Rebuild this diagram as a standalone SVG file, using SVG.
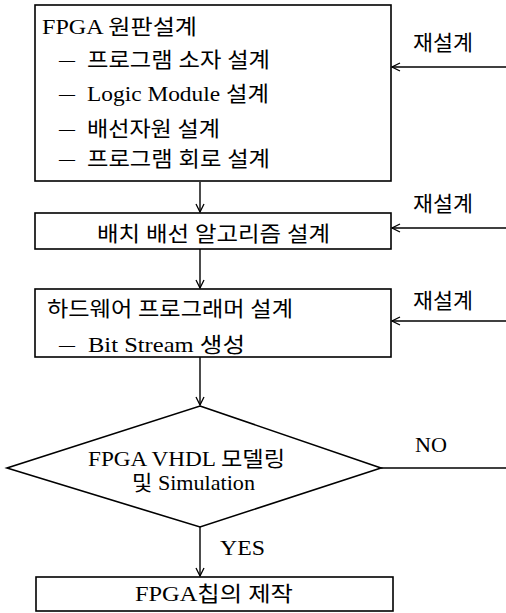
<svg xmlns="http://www.w3.org/2000/svg" width="506" height="613" viewBox="0 0 506 613">
<style>
.box{fill:#fff;stroke:#000;stroke-width:1.6}
.ln{fill:none;stroke:#000;stroke-width:1.4}
text{font-family:"Liberation Serif","Noto Sans CJK KR",serif;font-size:21px;fill:#000}
</style>
<defs>
<marker id="ah" markerWidth="10" markerHeight="10" refX="9" refY="5" orient="auto" markerUnits="userSpaceOnUse">
<path d="M1,1 L9,5 L1,9" fill="none" stroke="#000" stroke-width="1.3"/>
</marker>
</defs>
<g id="connectors">
<line class="ln" x1="200" y1="182" x2="200" y2="212" marker-end="url(#ah)"/>
<line class="ln" x1="200" y1="249" x2="200" y2="288" marker-end="url(#ah)"/>
<line class="ln" x1="200" y1="357" x2="200" y2="405" marker-end="url(#ah)"/>
<line class="ln" x1="200" y1="527" x2="200" y2="576" marker-end="url(#ah)"/>
<line class="ln" x1="506" y1="67" x2="392" y2="67" marker-end="url(#ah)"/>
<line class="ln" x1="506" y1="228" x2="392" y2="228" marker-end="url(#ah)"/>
<line class="ln" x1="506" y1="321" x2="392" y2="321" marker-end="url(#ah)"/>
<line class="ln" x1="381" y1="468" x2="506" y2="468"/>
<text x="413" y="50" textLength="60" lengthAdjust="spacingAndGlyphs">재설계</text>
<text x="413" y="211" textLength="60" lengthAdjust="spacingAndGlyphs">재설계</text>
<text x="413" y="308" textLength="60" lengthAdjust="spacingAndGlyphs">재설계</text>
<text x="415" y="452" textLength="32" lengthAdjust="spacingAndGlyphs">NO</text>
<text x="220" y="555" textLength="45" lengthAdjust="spacingAndGlyphs">YES</text>
</g>
<g id="node-design">
<rect class="box" x="35" y="5" width="356" height="176"/>
<text x="42" y="34" textLength="155" lengthAdjust="spacingAndGlyphs">FPGA 원판설계</text>
<text x="59" y="67" textLength="16" lengthAdjust="spacingAndGlyphs">—</text><text x="87" y="67" textLength="183" lengthAdjust="spacingAndGlyphs">프로그램 소자 설계</text>
<text x="59" y="101" textLength="16" lengthAdjust="spacingAndGlyphs">—</text><text x="87" y="101" textLength="182" lengthAdjust="spacingAndGlyphs">Logic Module 설계</text>
<text x="59" y="136" textLength="16" lengthAdjust="spacingAndGlyphs">—</text><text x="87" y="136" textLength="133" lengthAdjust="spacingAndGlyphs">배선자원 설계</text>
<text x="59" y="166" textLength="16" lengthAdjust="spacingAndGlyphs">—</text><text x="87" y="166" textLength="183" lengthAdjust="spacingAndGlyphs">프로그램 회로 설계</text>
</g>
<g id="node-route">
<rect class="box" x="35" y="213" width="356" height="36"/>
<text x="97" y="241" textLength="233" lengthAdjust="spacingAndGlyphs">배치 배선 알고리즘 설계</text>
</g>
<g id="node-hw">
<rect class="box" x="35" y="289" width="356" height="68"/>
<text x="47" y="316" textLength="246" lengthAdjust="spacingAndGlyphs">하드웨어 프로그래머 설계</text>
<text x="59" y="352" textLength="16" lengthAdjust="spacingAndGlyphs">—</text><text x="88" y="352" textLength="157" lengthAdjust="spacingAndGlyphs">Bit Stream 생성</text>
</g>
<g id="node-sim">
<polygon class="box" points="200,406 381,468 200,527 7,468"/>
<text x="88" y="466" textLength="197" lengthAdjust="spacingAndGlyphs">FPGA VHDL 모델링</text>
<text x="132" y="490" textLength="123" lengthAdjust="spacingAndGlyphs">및 Simulation</text>
</g>
<g id="node-chip">
<rect class="box" x="36" y="577" width="357" height="34"/>
<text x="135" y="601" textLength="158" lengthAdjust="spacingAndGlyphs">FPGA칩의 제작</text>
</g>
</svg>
